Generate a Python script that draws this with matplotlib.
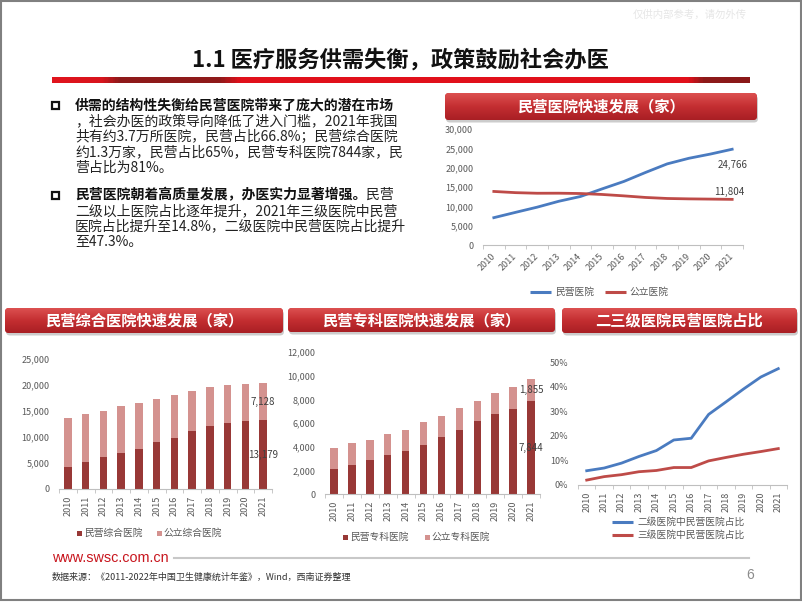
import matplotlib
matplotlib.use('Agg')
import matplotlib.pyplot as plt
import numpy as np
from matplotlib.patches import FancyBboxPatch, Rectangle
from matplotlib.colors import LinearSegmentedColormap
from matplotlib.ticker import FuncFormatter

plt.rcParams['font.family'] = ['Noto Sans CJK SC', 'DejaVu Sans']

W, H = 802, 602

# ---------------- data ----------------
years = [str(y) for y in range(2010, 2022)]
private_hosp = [7068, 8440, 9786, 11313, 12546, 14518, 16432, 18759, 20977, 22424, 23524, 24766]
public_hosp = [13850, 13539, 13384, 13396, 13314, 13069, 12708, 12297, 12032, 11930, 11870, 11804]

general_private = [4200, 5200, 6100, 6900, 7750, 9050, 9800, 11100, 12200, 12600, 13000, 13179]
general_public = [9450, 9300, 8950, 9000, 8750, 8350, 8300, 7800, 7500, 7450, 7200, 7128]

special_private = [2150, 2490, 2880, 3280, 3640, 4180, 4800, 5450, 6160, 6720, 7150, 7844]
special_public = [1750, 1780, 1720, 1830, 1810, 1870, 1780, 1780, 1690, 1780, 1860, 1855]

level2_share = [5.8, 6.9, 8.9, 11.6, 14.0, 18.3, 19.0, 28.7, 33.8, 39.0, 43.9, 47.3]
level3_share = [2.0, 3.4, 4.2, 5.4, 5.9, 7.1, 7.1, 9.8, 11.2, 12.5, 13.6, 14.8]

BLUE = '#4a7bc0'
RED = '#be4b48'
DARK = '#983836'
LIGHT = '#d4928f'
TICK = '#595959'

fig = plt.figure(figsize=(W / 100, H / 100), dpi=100)
fig.patch.set_facecolor('white')

bg = fig.add_axes([0, 0, 1, 1])
bg.axis('off')

# slide frame
bg.add_patch(Rectangle((1, 1), W - 2.5, H - 3, fc='none', ec='#808080', lw=1.5, zorder=1))

# watermark
bg.text(690, 15, '仅供内部参考，请勿外传', fontsize=7.5, color='#e6e6e6', ha='center', va='center')

# title
bg.text(400, 60, '1.1 医疗服务供需失衡，政策鼓励社会办医', fontsize=16, fontweight='bold',
        color='#111111', ha='center', va='center')

# red bar under title
xb0, xb1 = 52, 750
pts = [(52, '#e1141d'), (100, '#d8141d'), (118, '#8e1a1a'), (218, '#8e1a1a'), (240, '#e1101b'),
       (690, '#e1101b'), (706, '#8e1a1a'), (750, '#8a1818')]
cmap_bar = LinearSegmentedColormap.from_list('bar', [((p - xb0) / (xb1 - xb0), c) for p, c in pts])
bg.imshow(np.linspace(0, 1, 400).reshape(1, -1), extent=[xb0, xb1, 83, 77], cmap=cmap_bar,
          aspect='auto', zorder=2)

# body text
def txt(x, y, s, bold=False, ha='left'):
    bg.text(x, y, s, fontsize=10, fontweight='bold' if bold else 'normal',
            color='#111111' if bold else '#222222', ha=ha, va='center')

for by in (101.5, 191.5):
    bg.add_patch(Rectangle((52, by), 7, 7, fc='none', ec='#111111', lw=1.6, zorder=3))

txt(75, 105.5, '供需的结构性失衡给民营医院带来了庞大的潜在市场', bold=True)
txt(75, 121, '，社会办医的政策导向降低了进入门槛，2021年我国')
txt(75, 136.5, '共有约3.7万所医院，民营占比66.8%；民营综合医院')
txt(75, 152, '约1.3万家，民营占比65%，民营专科医院7844家，民')
txt(75, 167.5, '营占比为81%。')
txt(75, 195, '民营医院朝着高质量发展，办医实力显著增强。', bold=True)
txt(394, 195, '民营', ha='right')
txt(75, 211, '二级以上医院占比逐年提升，2021年三级医院中民营')
txt(75, 226.5, '医院占比提升至14.8%，二级医院中民营医院占比提升')
txt(75, 242, '至47.3%。')

# banners
cmap_ban = LinearSegmentedColormap.from_list('ban', ['#dc5050', '#c42e31', '#a91f24'])

def banner(x0, y0, x1, y1, text):
    sh = FancyBboxPatch((x0 + 1, y0 + 2.5), x1 - x0, y1 - y0,
                        boxstyle='round,pad=0,rounding_size=4', fc='#000000', ec='none',
                        alpha=0.2, zorder=2)
    bg.add_patch(sh)
    p = FancyBboxPatch((x0, y0), x1 - x0, y1 - y0, boxstyle='round,pad=0,rounding_size=4',
                       fc='#c42e31', ec='none', zorder=3)
    bg.add_patch(p)
    im = bg.imshow(np.linspace(0, 1, 60).reshape(-1, 1), extent=[x0, x1, y1, y0], cmap=cmap_ban,
                   aspect='auto', zorder=3.5)
    im.set_clip_path(p)
    bg.text((x0 + x1) / 2, (y0 + y1) / 2, text, color='white', fontsize=11, fontweight='bold',
            ha='center', va='center', zorder=4)

banner(445, 93, 757, 120, '民营医院快速发展（家）')
banner(5, 308, 283, 333, '民营综合医院快速发展（家）')
banner(288, 308, 555, 332, '民营专科医院快速发展（家）')
banner(562, 308, 797, 333, '二三级医院民营医院占比')

# footer
bg.text(52, 558, 'www.swsc.com.cn', fontsize=10.4, color='#c8161e', family='Liberation Sans',
        ha='left', va='center')
bg.plot([174, 749], [558, 558], color='#c8c8c8', lw=1.5)
bg.text(52, 577, '数据来源：《2011-2022年中国卫生健康统计年鉴》，Wind，西南证券整理',
        fontsize=6.5, color='#333333', ha='left', va='center')
bg.text(750, 575, '6', fontsize=10, color='#8c8c8c', ha='center', va='center',
        family='Liberation Sans')

# legends (drawn on background)
def leg_line(x, y, color, label):
    bg.plot([x, x + 21], [y, y], color=color, lw=2.2, solid_capstyle='butt')
    bg.text(x + 25, y, label, fontsize=7, color=TICK, ha='left', va='center')

def leg_sq(x, y, color, label):
    bg.add_patch(Rectangle((x - 2.5, y - 2.5), 5, 5, fc=color, ec='none'))
    bg.text(x + 5, y, label, fontsize=7, color=TICK, ha='left', va='center')

leg_line(530, 292, BLUE, '民营医院')
leg_line(605, 292, RED, '公立医院')
leg_sq(79, 533, DARK, '民营综合医院')
leg_sq(159, 533, LIGHT, '公立综合医院')
leg_sq(345, 537, DARK, '民营专科医院')
leg_sq(427, 537, LIGHT, '公立专科医院')
leg_line(612, 522, BLUE, '二级医院中民营医院占比')
leg_line(612, 535, RED, '三级医院中民营医院占比')

bg.set_xlim(0, W)
bg.set_ylim(H, 0)

# ---------------- chart axes ----------------
def add_ax(x0, y0, x1, y1):
    ax = fig.add_axes([x0 / W, 1 - y1 / H, (x1 - x0) / W, (y1 - y0) / H])
    ax.patch.set_alpha(0)
    return ax

def style(ax, rot45=False):
    for s in ('top', 'right', 'left'):
        ax.spines[s].set_visible(False)
    ax.spines['bottom'].set_color('#bfbfbf')
    ax.spines['bottom'].set_linewidth(0.8)
    ax.tick_params(axis='y', length=0, labelsize=6.5, labelcolor=TICK, pad=7)
    x = np.arange(len(years))
    ax.set_xticks(x)
    if rot45:
        ax.set_xticklabels(years, rotation=45, ha='right', va='center', rotation_mode='anchor',
                           fontsize=6.5, color=TICK)
        ax.tick_params(axis='x', which='major', length=0, pad=7)
    else:
        ax.set_xticklabels(years, rotation=90, fontsize=6.5, color=TICK)
        ax.tick_params(axis='x', which='major', length=0, pad=5)
    ax.set_xticks(np.arange(-0.5, len(years), 1), minor=True)
    ax.tick_params(axis='x', which='minor', length=3, color='#bfbfbf')
    ax.set_xlim(-0.5, len(years) - 0.5)

comma = FuncFormatter(lambda v, p: f'{int(v):,}')

# top-right line chart
ax1 = add_ax(483, 129, 743, 245)
x = np.arange(len(years))
ax1.plot(x, private_hosp, color=BLUE, lw=2)
ax1.plot(x, public_hosp, color=RED, lw=2)
ax1.set_ylim(0, 30000)
ax1.set_yticks(range(0, 30001, 5000))
ax1.yaxis.set_major_formatter(comma)
style(ax1, rot45=True)
ax1.annotate(f'{private_hosp[-1]:,}', (x[-1], private_hosp[-1]), xytext=(0, -11.5),
             textcoords='offset points', ha='center', va='center', fontsize=7, color='#404040')
ax1.annotate(f'{public_hosp[-1]:,}', (x[-1], public_hosp[-1]), xytext=(-2, 5.5),
             textcoords='offset points', ha='center', va='center', fontsize=7, color='#404040')

# bottom-left stacked bars
def stacked(ax, priv, pub, ymax, step):
    ax.bar(x, priv, width=0.42, color=DARK)
    ax.bar(x, pub, width=0.42, bottom=priv, color=LIGHT)
    ax.set_ylim(0, ymax)
    ax.set_yticks(range(0, ymax + 1, step))
    ax.yaxis.set_major_formatter(comma)
    style(ax)
    ax.text(x[-1], priv[-1] / 2, f'{priv[-1]:,}', ha='center', va='center', fontsize=7,
            color='#404040')
    ax.text(x[-1], priv[-1] + pub[-1] / 2, f'{pub[-1]:,}', ha='center', va='center', fontsize=7,
            color='#404040')

ax2 = add_ax(59, 359, 272, 489)
stacked(ax2, general_private, general_public, 25000, 5000)

ax3 = add_ax(325, 352, 540, 494)
stacked(ax3, special_private, special_public, 12000, 2000)

# bottom-right share chart
ax4 = add_ax(578, 362, 787, 485)
ax4.plot(x, level2_share, color=BLUE, lw=2)
ax4.plot(x, level3_share, color=RED, lw=2)
ax4.set_ylim(0, 50)
ax4.set_yticks(range(0, 51, 10))
ax4.yaxis.set_major_formatter(FuncFormatter(lambda v, p: f'{int(v)}%'))
style(ax4)

fig.savefig('out.png', dpi=100, facecolor='white')
